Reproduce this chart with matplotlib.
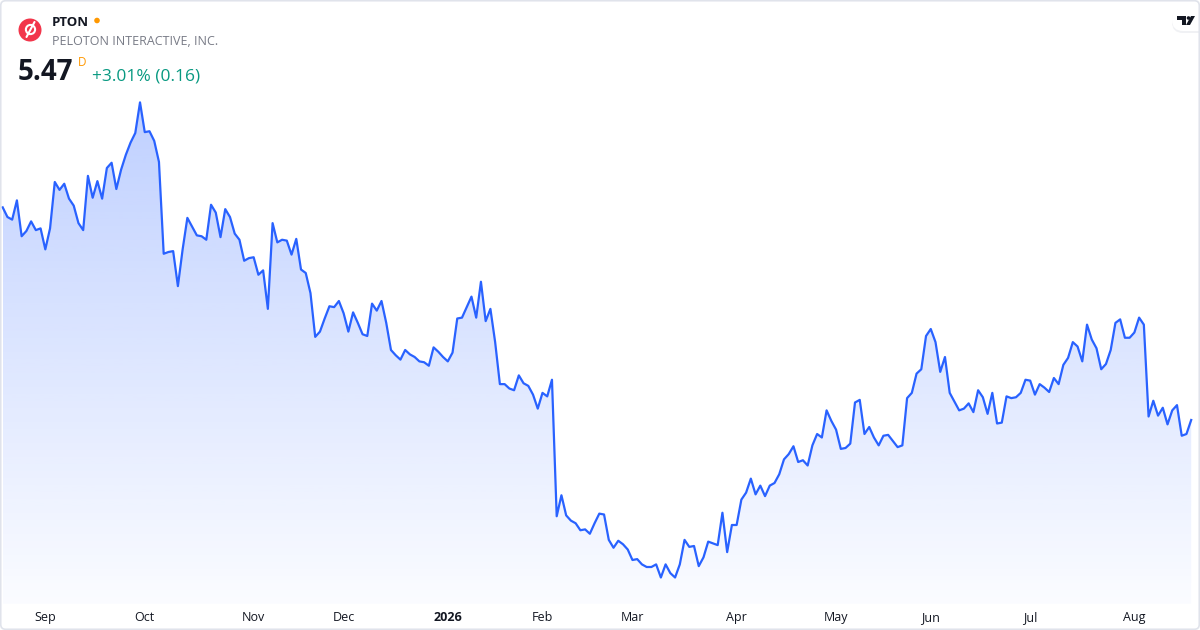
import numpy as np
import pandas as pd
import matplotlib.pyplot as plt
from matplotlib.patches import Circle, FancyBboxPatch, Polygon, Rectangle

plt.rcParams['font.family'] = ['Open Sans', 'DejaVu Sans']

# PTON daily closes (one per trading day)
prices = [
    7.90, 7.79, 7.76, 7.98, 7.57, 7.63, 7.74, 7.64, 7.66, 7.42,
    7.66, 8.19, 8.10, 8.17, 8.00, 7.92, 7.72, 7.64, 8.26, 8.01,
    8.20, 8.00, 8.35, 8.41, 8.11, 8.33, 8.50, 8.64, 8.75, 9.10,
    8.76, 8.77, 8.66, 8.42, 7.37, 7.39, 7.40, 7.00, 7.42, 7.78,
    7.68, 7.58, 7.57, 7.53, 7.93, 7.84, 7.56, 7.88, 7.79, 7.60,
    7.53, 7.29, 7.32, 7.33, 7.13, 7.18, 6.74, 7.72, 7.50, 7.53,
    7.52, 7.36, 7.54, 7.19, 7.15, 6.92, 6.42, 6.48, 6.63, 6.77,
    6.76, 6.83, 6.69, 6.48, 6.70, 6.58, 6.45, 6.43, 6.80, 6.72,
    6.83, 6.58, 6.27, 6.21, 6.16, 6.27, 6.22, 6.19, 6.14, 6.13,
    6.09, 6.30, 6.25, 6.19, 6.14, 6.24, 6.63, 6.64, 6.76, 6.88,
    6.64, 7.05, 6.60, 6.74, 6.36, 5.88, 5.88, 5.83, 5.81, 5.98,
    5.89, 5.86, 5.76, 5.60, 5.78, 5.74, 5.93, 4.37, 4.61, 4.38,
    4.32, 4.29, 4.21, 4.22, 4.17, 4.29, 4.40, 4.39, 4.10, 4.01,
    4.09, 4.05, 3.99, 3.87, 3.88, 3.82, 3.79, 3.79, 3.82, 3.67,
    3.82, 3.72, 3.67, 3.82, 4.10, 4.02, 4.03, 3.80, 3.90, 4.08,
    4.06, 4.04, 4.41, 3.96, 4.27, 4.27, 4.56, 4.64, 4.80, 4.62,
    4.72, 4.60, 4.72, 4.75, 4.85, 5.02, 5.08, 5.17, 4.99, 5.01,
    4.95, 5.18, 5.31, 5.27, 5.58, 5.46, 5.36, 5.14, 5.15, 5.20,
    5.67, 5.70, 5.31, 5.39, 5.27, 5.18, 5.29, 5.30, 5.23, 5.16,
    5.18, 5.72, 5.78, 6.00, 6.05, 6.43, 6.51, 6.36, 6.02, 6.19,
    5.78, 5.68, 5.58, 5.60, 5.66, 5.56, 5.81, 5.73, 5.54, 5.78,
    5.43, 5.44, 5.74, 5.72, 5.73, 5.78, 5.93, 5.92, 5.76, 5.88,
    5.84, 5.79, 5.95, 5.88, 6.10, 6.18, 6.36, 6.31, 6.14, 6.56,
    6.39, 6.29, 6.05, 6.11, 6.27, 6.58, 6.62, 6.41, 6.41, 6.47,
    6.64, 6.56, 5.51, 5.69, 5.52, 5.61, 5.42, 5.58, 5.64, 5.29,
    5.31, 5.47,
]

holidays = ['2025-09-01', '2025-11-27', '2025-12-25', '2026-01-01', '2026-01-19',
            '2026-02-16', '2026-04-03', '2026-05-25', '2026-06-19', '2026-07-03']
dates = pd.bdate_range('2025-08-19', '2026-08-19', freq='C', holidays=holidays)
dates = dates[:len(prices)]

ticker = 'PTON'
company = 'PELOTON INTERACTIVE, INC.'
last_price = '5.47'
change_text = '+3.01% (0.16)'

W, H = 1200, 630
fig = plt.figure(figsize=(12, 6.3), dpi=100)
fig.patch.set_facecolor('white')
ax = fig.add_axes([0, 0, 1, 1])
ax.set_axis_off()

x = np.arange(len(prices))
y = np.array(prices)
base = 3.37
ax.set_xlim(-0.57, 252.86)
ax.set_ylim(3.07, 10.27)

# gradient area under the line
poly = ax.fill_between(x, y, base, facecolor='none', edgecolor='none')
grad = np.linspace(0, 1, 256)
rgba = np.zeros((256, 1, 4))
rgba[:, 0, 0] = 41 / 255
rgba[:, 0, 1] = 98 / 255
rgba[:, 0, 2] = 1.0
rgba[:, 0, 3] = 0.02 + 0.28 * grad
im = ax.imshow(rgba, extent=[x[0], x[-1], base, y.max()], origin='lower',
               aspect='auto', zorder=1, interpolation='bilinear')
im.set_clip_path(poly.get_paths()[0], transform=ax.transData)
ax.plot(x, y, color='#2962ff', lw=1.6, zorder=3)

# month labels at first trading day of each month
s = pd.Series(x, index=dates)
firsts = s.groupby([dates.year, dates.month]).min()
for (yr, mo), idx in firsts.items():
    if idx == 0:
        continue
    if mo == 1:
        lab, wt = str(yr), 'bold'
    else:
        lab, wt = dates[idx].strftime('%b'), 'normal'
    ax.text(idx, 1 - 621 / H, lab, transform=ax.get_xaxis_transform(), ha='center',
            va='baseline', fontsize=9, color='#131722', fontweight=wt)

# overlay in pixel units for the header and badge
hd = fig.add_axes([0, 0, 1, 1], facecolor='none')
hd.set_xlim(0, W)
hd.set_ylim(H, 0)
hd.set_axis_off()

hd.add_patch(Circle((30, 30), 11.5, facecolor='#f2364b', edgecolor='none'))
hd.add_patch(Circle((30.5, 29.5), 4.6, facecolor='none', edgecolor='white', lw=1.5))
hd.plot([26.5, 34.5], [37, 22], color='white', lw=1.5, solid_capstyle='round')
hd.text(51.5, 25.5, ticker, fontsize=9.5, fontweight='bold', color='#131722', va='baseline')
hd.add_patch(Circle((97, 20.5), 2.8, facecolor='#ff9800', edgecolor='none'))
hd.text(51.5, 45, company, fontsize=9, color='#787b86', va='baseline')
hd.text(18, 80.5, last_price, fontsize=20, fontweight='bold', color='#131722', va='baseline')
hd.text(77.5, 65.5, 'D', fontsize=8.5, color='#ff9800', va='baseline')
hd.text(92, 80.5, change_text, fontsize=12.5, color='#089981', va='baseline')

# tradingview badge
hd.add_patch(FancyBboxPatch((1172, 9), 40, 24, boxstyle='round,pad=0,rounding_size=11',
                            facecolor='#f0f1f4', edgecolor='none', zorder=4))
hd.add_patch(FancyBboxPatch((1172, 8), 40, 23, boxstyle='round,pad=0,rounding_size=11',
                            facecolor='white', edgecolor='none', zorder=5))
hd.add_patch(Rectangle((1177, 16), 9, 3.5, facecolor='#131722', edgecolor='none', zorder=6))
hd.add_patch(Rectangle((1181.5, 16), 4, 9, facecolor='#131722', edgecolor='none', zorder=6))
hd.add_patch(Circle((1188.5, 18), 1.8, facecolor='#131722', edgecolor='none', zorder=6))
hd.add_patch(Polygon([(1191, 16), (1195, 16), (1190, 25), (1186, 25)], closed=True,
                     facecolor='#131722', edgecolor='none', zorder=6))

# outer border
hd.add_patch(FancyBboxPatch((0.7, 0.7), W - 1.4, H - 1.4, boxstyle='round,pad=0,rounding_size=5',
                            facecolor='none', edgecolor='#e0e3eb', lw=1.2, zorder=10))

fig.savefig('out.png', dpi=100, facecolor='white')
